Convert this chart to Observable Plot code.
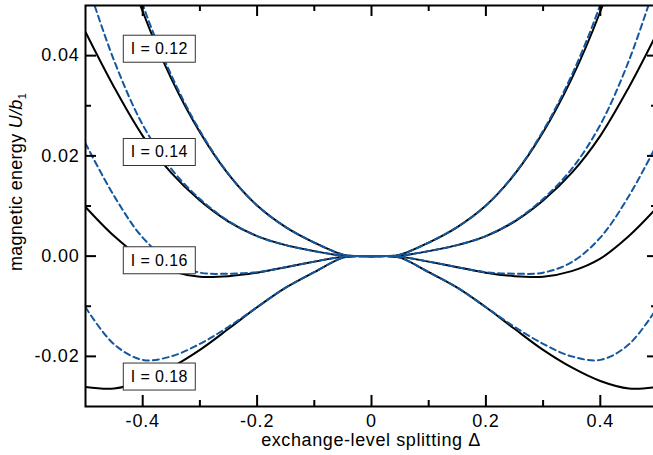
<!DOCTYPE html>
<html><head><meta charset="utf-8">
<script src="https://cdn.jsdelivr.net/npm/d3@7"></script>
<script src="https://cdn.jsdelivr.net/npm/@observablehq/plot@0.6"></script>
<style>
body{margin:0;background:#fff;}
#chart svg{overflow:hidden;}
</style>
</head><body><div id="chart"></div>
<script>
// exchange-level splitting Δ
const delta = [-0.5,-0.45,-0.4,-0.35,-0.3,-0.25,-0.2,-0.15,-0.1,-0.05,-0.025,0,0.025,0.05,0.1,0.15,0.2,0.25,0.3,0.35,0.4,0.45,0.5];
// magnetic energy U/b1 — solid (exact) curves
const exact012 = [0.0863,0.0656,0.0488,0.0354,0.0247,0.0163,0.0101,0.0058,0.0027,0.0003,0.0000,0,0.0000,0.0003,0.0027,0.0058,0.0101,0.0163,0.0247,0.0354,0.0488,0.0656,0.0863];
const exact014 = [0.0447,0.0337,0.0240,0.0166,0.0111,0.0069,0.0040,0.0022,0.0010,0.0001,0.0000,0,0.0000,0.0001,0.0010,0.0022,0.0040,0.0069,0.0111,0.0166,0.0240,0.0337,0.0447];
const exact016 = [0.0098,0.0040,-0.0005,-0.0030,-0.0041,-0.0040,-0.0033,-0.0022,-0.0011,-0.0001,0.0000,0,0.0000,-0.0001,-0.0011,-0.0022,-0.0033,-0.0040,-0.0041,-0.0030,-0.0005,0.0040,0.0098];
const exact018 = [-0.0261,-0.0264,-0.0249,-0.0222,-0.0187,-0.0145,-0.0102,-0.0063,-0.0032,-0.0003,0.0000,0,0.0000,-0.0003,-0.0032,-0.0063,-0.0102,-0.0145,-0.0187,-0.0222,-0.0249,-0.0264,-0.0261];
// dashed (approximate) curves
const approx012 = [0.0930,0.0690,0.0502,0.0361,0.0250,0.0164,0.0101,0.0058,0.0027,0.0003,0.0000,0,0.0000,0.0003,0.0027,0.0058,0.0101,0.0164,0.0250,0.0361,0.0502,0.0690,0.0930];
const approx014 = [0.0555,0.0390,0.0262,0.0174,0.0114,0.0070,0.0040,0.0022,0.0010,0.0001,0.0000,0,0.0000,0.0001,0.0010,0.0022,0.0040,0.0070,0.0114,0.0174,0.0262,0.0390,0.0555];
const approx016 = [0.0225,0.0120,0.0037,-0.0012,-0.0033,-0.0035,-0.0032,-0.0022,-0.0011,-0.0001,0.0000,0,0.0000,-0.0001,-0.0011,-0.0022,-0.0032,-0.0035,-0.0033,-0.0012,0.0037,0.0120,0.0225];
const approx018 = [-0.0102,-0.0176,-0.0207,-0.0200,-0.0175,-0.0141,-0.0102,-0.0063,-0.0032,-0.0003,0.0000,0,0.0000,-0.0003,-0.0032,-0.0063,-0.0102,-0.0141,-0.0175,-0.0200,-0.0207,-0.0176,-0.0102];

const couplings = ["0.12","0.14","0.16","0.18"];
const labelTexts = ["I = 0.12","I = 0.14","I = 0.16","I = 0.18"];
const labelDelta = [-0.371,-0.371,-0.371,-0.371];
const labelU = [0.0413,0.0207,-0.0009,-0.0241];

const xMajor = [-0.4,-0.2,0,0.2,0.4];
const xMinor = [-0.3,-0.1,0.1,0.3];
const yMajor = [-0.02,0,0.02,0.04];
const yMinor = [-0.01,0.01,0.03];

const exactSets = [exact012, exact014, exact016, exact018];
const approxSets = [approx012, approx014, approx016, approx018];
const exactRows = couplings.flatMap((c,k) => delta.map((d,i) => ({delta:d, u:exactSets[k][i], I:c})));
const approxRows = couplings.flatMap((c,k) => delta.map((d,i) => ({delta:d, u:approxSets[k][i], I:c})));
const labels = labelTexts.map((t,i) => ({text:t, x:labelDelta[i], y:labelU[i]}));

const W = 653, H = 455, mL = 85, mR = -4, mT = 5, mB = 49;
const pw = W - mL - mR, ph = H - mT - mB;
const blue = "#13589e";

const plot = Plot.plot({
  width: W, height: H,
  marginLeft: mL, marginRight: mR, marginTop: mT, marginBottom: mB,
  style: {fontFamily: "'Liberation Sans', Arial, Helvetica, sans-serif", fontSize: "18px", color: "black", background: "white"},
  x: {domain: [-0.5, 0.5]},
  y: {domain: [-0.03, 0.05]},
  marks: [
    Plot.line(exactRows, {x:"delta", y:"u", z:"I", stroke:"black", strokeWidth:2, curve:"catmull-rom", clip:true}),
    Plot.line(approxRows, {x:"delta", y:"u", z:"I", stroke:blue, strokeWidth:2, strokeDasharray:"6,4", curve:"catmull-rom", clip:true}),
    Plot.text(labels, {x:"x", y:"y", text:"text", fontSize:16, fill:"black"}),
    Plot.tickX(xMajor, {x:d=>d, insetTop: ph-11, stroke:"black", strokeWidth:2}),
    Plot.tickX(xMinor, {x:d=>d, insetTop: ph-6, stroke:"black", strokeWidth:2}),
    Plot.tickX(xMajor, {x:d=>d, insetBottom: ph-11, stroke:"black", strokeWidth:2}),
    Plot.tickX(xMinor, {x:d=>d, insetBottom: ph-6, stroke:"black", strokeWidth:2}),
    Plot.tickY(yMajor, {y:d=>d, insetRight: pw-11, stroke:"black", strokeWidth:2}),
    Plot.tickY(yMinor, {y:d=>d, insetRight: pw-6, stroke:"black", strokeWidth:2}),
    Plot.tickY(yMajor, {y:d=>d, insetLeft: pw-10, stroke:"black", strokeWidth:2}),
    Plot.tickY(yMinor, {y:d=>d, insetLeft: pw-6, stroke:"black", strokeWidth:2}),
    Plot.frame({stroke:"black", strokeWidth:2}),
    Plot.axisX({ticks:xMajor, tickSize:0, tickPadding:8, tickFormat:d => d === 0 ? "0" : d.toFixed(1), label:null}),
    Plot.axisY({ticks:yMajor, tickSize:0, tickPadding:6, tickFormat:d => d.toFixed(2), label:null})
  ]
});
document.getElementById("chart").appendChild(plot);
const svg = d3.select(plot);
svg.selectAll('g[aria-label="x-axis tick label"] text, g[aria-label="y-axis tick label"] text').style("letter-spacing","0.8px");

// boxes behind the I labels
svg.selectAll('g[aria-label="text"] text').style("letter-spacing","0.4px").each(function(){
  const b = this.getBBox();
  const cx = b.x + b.width/2, cy = b.y + b.height/2;
  const r = d3.select(this.parentNode).insert("rect", () => this)
    .attr("x", cx - 36).attr("y", cy - 13.5).attr("width", 72).attr("height", 27)
    .attr("fill", "white").attr("stroke", "#333").attr("stroke-width", 1);
  const t = this.getAttribute("transform");
  if (t) r.attr("transform", t);
});

// axis titles
svg.append("text")
  .attr("x", mL + pw*0.5).attr("y", 446)
  .attr("text-anchor", "middle").attr("font-size", 18).attr("fill","black")
  .style("letter-spacing","0.6px")
  .text("exchange-level splitting Δ");
const yl = svg.append("text")
  .attr("transform", "translate(21.5,182) rotate(-90)")
  .attr("text-anchor", "middle").attr("font-size", 18).attr("fill","black")
  .style("letter-spacing","0.3px");
yl.append("tspan").text("magnetic energy ");
yl.append("tspan").attr("font-style","italic").text("U/b");
yl.append("tspan").attr("font-size", 11).attr("dy", 4).text("1");
</script>
</body></html>
